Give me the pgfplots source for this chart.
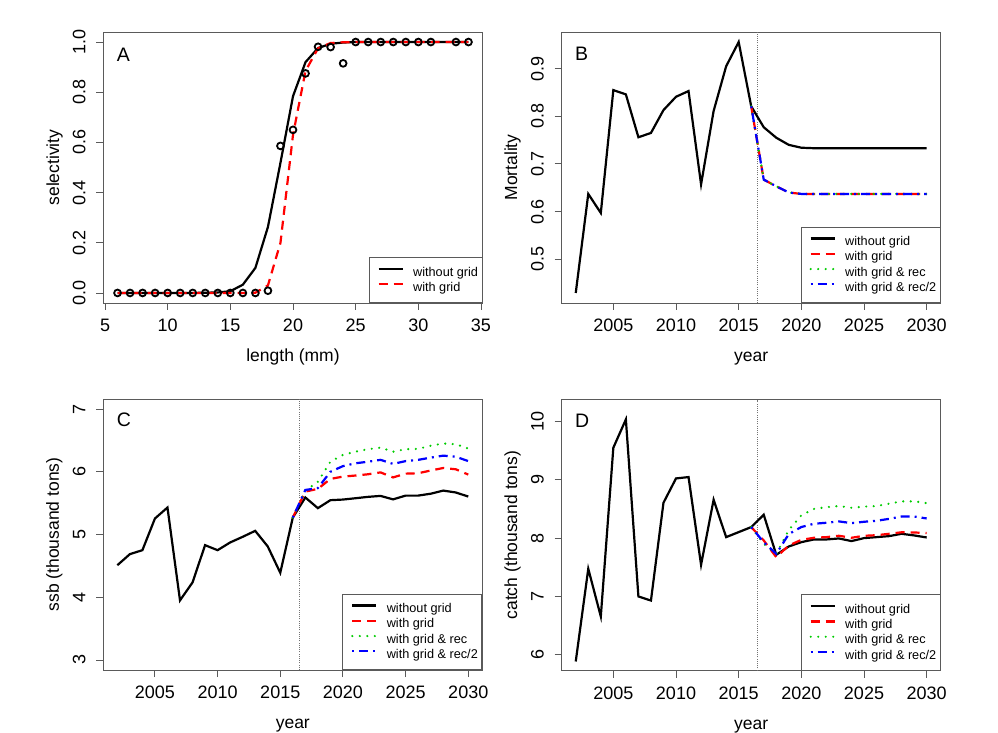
\documentclass[border=0pt]{standalone}
\usepackage{fontspec}
\setmainfont{Liberation Sans}
\usepackage{pgfplots}
\pgfplotsset{compat=1.18}
\definecolor{rgreen}{RGB}{0,205,0}
\definecolor{framegray}{RGB}{90,90,90}
\newcommand{\mainfont}{\fontsize{17.5bp}{20bp}\selectfont}
\newcommand{\tickfont}{\fontsize{18bp}{20bp}\selectfont}
\newcommand{\legfont}{\fontsize{12.7bp}{15bp}\selectfont}
\newcommand{\letfont}{\fontsize{19.5bp}{22bp}\selectfont}
\pgfplotsset{
  rbase/.style={
    scale only axis, width=379bp, height=271bp,
    axis line style={framegray, line width=0.9bp},
    every tick/.style={framegray, line width=0.9bp},
    tick align=outside, tick pos=left, major tick length=7bp,
    font=\mainfont,
    tick label style={font=\tickfont},
    /pgf/number format/assume math mode=true,
    /pgf/number format/set thousands separator={},
    xticklabel style={anchor=north, inner sep=0pt},
    xticklabel shift=9bp,
    yticklabel style={rotate=90, anchor=base, inner sep=0pt},
    yticklabel shift=11bp,
    xlabel style={at={(axis description cs:0.5,-0.2177)}, anchor=base, inner sep=0pt},
    ylabel style={at={(axis description cs:-0.1174,0.5)}, anchor=base, inner sep=0pt},
    legend style={at={(1,0)}, anchor=south east, draw=framegray, line width=0.9bp,
      fill=white, font=\legfont, inner xsep=4bp, inner ysep=8.2bp, row sep=2.3bp,
      nodes={inner xsep=0pt, inner ysep=0pt, text height=10bp, text depth=3bp}},
    legend cell align=left,
    legend image code/.code={\path[draw=none,fill=none] (0bp,0bp) rectangle (40bp,3.5bp); \draw[##1] (5.5bp,3.5bp) -- (29.5bp,3.5bp);},
  },
  lblack/.style={black, line width=2.2bp},
  lred/.style={red, line width=2.2bp, dash pattern=on 9bp off 6bp},
  lgreen/.style={rgreen, line width=2.4bp, line cap=round, dash pattern=on 0bp off 7.5bp},
  lblue/.style={blue, line width=2.2bp, dash pattern=on 2bp off 5bp on 9bp off 5bp},
  vline/.style={black!55, line width=0.8bp, dash pattern=on 1bp off 1.2bp, forget plot},
}
\begin{document}
\begin{tikzpicture}
\path[use as bounding box] (0bp,0bp) rectangle (998bp,733bp);

% ---------------- Panel A
\begin{axis}[rbase, at={(103.5bp,430bp)}, anchor=south west,
  xmin=4.88, xmax=35.12, ymin=-0.04, ymax=1.04,
  xtick={5,10,15,20,25,30,35}, ytick={0,0.2,0.4,0.6,0.8,1.0},
  yticklabel style={/pgf/number format/.cd, fixed, fixed zerofill, precision=1},
  xlabel={length (mm)}, ylabel={selectivity}]
\addplot[only marks, mark=o, mark size=3.4bp, black, line width=1.8bp, forget plot] coordinates {
(6,0)(7,0)(8,0)(9,0)(10,0)(11,0)(12,0)(13,0)(14,0)(15,0)(16,0)(17,0)(18,0.009)(19,0.586)(20,0.65)(21,0.875)(22,0.981)(23,0.98)(24,0.915)(25,1)(26,1)(27,1)(28,1)(29,1)(30,1)(31,1)(33,1)(34,1)};
\addplot[lblack] coordinates {
(6,0)(7,0)(8,0)(9,0)(10,0)(11,0)(12,0)(13,0.001)(14,0.002)(15,0.007)(16,0.033)(17,0.10)(18,0.263)(19,0.519)(20,0.784)(21,0.92)(22,0.976)(23,0.993)(24,0.998)(25,1)(26,1)(27,1)(28,1)(29,1)(30,1)(31,1)(32,1)(33,1)(34,1)};
\addlegendentry{without grid}
\addplot[lred] coordinates {
(6,0)(7,0)(8,0)(9,0)(10,0)(11,0)(12,0)(13,0)(14,0)(15,0)(16,0)(17,0.001)(18,0.03)(19,0.2)(20,0.63)(21,0.885)(22,0.975)(23,0.996)(24,0.999)(25,1)(26,1)(27,1)(28,1)(29,1)(30,1)(31,1)(32,1)(33,1)(34,1)};
\addlegendentry{with grid}
\node[anchor=base west, font=\letfont, inner sep=0pt] at (rel axis cs:0.035,0.892) {A};
\end{axis}

% ---------------- Panel B
\begin{axis}[rbase, at={(561.7bp,430bp)}, anchor=south west,
  xmin=2000.88, xmax=2031.12, ymin=0.408, ymax=0.977,
  xtick={2005,2010,2015,2020,2025,2030}, ytick={0.5,0.6,0.7,0.8,0.9},
  yticklabel style={/pgf/number format/.cd, fixed, fixed zerofill, precision=1},
  xlabel={year}, ylabel={Mortality}]
\addplot[vline] coordinates {(2016.5,0.408)(2016.5,0.977)};
\addplot[lblack] coordinates {
(2002,0.429)(2003,0.637)(2004,0.597)(2005,0.855)(2006,0.846)(2007,0.756)(2008,0.765)(2009,0.813)(2010,0.841)(2011,0.853)(2012,0.657)(2013,0.811)(2014,0.905)(2015,0.956)(2016,0.821)(2017,0.777)(2018,0.755)(2019,0.740)(2020,0.734)(2021,0.733)(2022,0.733)(2023,0.733)(2024,0.733)(2025,0.733)(2026,0.733)(2027,0.733)(2028,0.733)(2029,0.733)(2030,0.733)};
\addlegendentry{without grid}
\addplot[lred] coordinates {
(2016,0.821)(2017,0.667)(2018,0.653)(2019,0.640)(2020,0.637)(2021,0.637)(2022,0.637)(2023,0.637)(2024,0.637)(2025,0.637)(2026,0.637)(2027,0.637)(2028,0.637)(2029,0.637)(2030,0.637)};
\addlegendentry{with grid}
\addplot[lgreen] coordinates {
(2016,0.821)(2017,0.667)(2018,0.653)(2019,0.640)(2020,0.637)(2021,0.637)(2022,0.637)(2023,0.637)(2024,0.637)(2025,0.637)(2026,0.637)(2027,0.637)(2028,0.637)(2029,0.637)(2030,0.637)};
\addlegendentry{with grid \& rec}
\addplot[lblue] coordinates {
(2016,0.821)(2017,0.667)(2018,0.653)(2019,0.640)(2020,0.637)(2021,0.637)(2022,0.637)(2023,0.637)(2024,0.637)(2025,0.637)(2026,0.637)(2027,0.637)(2028,0.637)(2029,0.637)(2030,0.637)};
\addlegendentry{with grid \& rec/2}
\node[anchor=base west, font=\letfont, inner sep=0pt] at (rel axis cs:0.035,0.895) {B};
\end{axis}

% ---------------- Panel C
\begin{axis}[rbase, at={(103.3bp,63bp)}, anchor=south west,
  xmin=2000.88, xmax=2031.12, ymin=2.84, ymax=7.16,
  xtick={2005,2010,2015,2020,2025,2030}, ytick={3,4,5,6,7},
  xlabel={year}, ylabel={ssb (thousand tons)}]
\addplot[vline] coordinates {(2016.5,2.84)(2016.5,7.16)};
\addplot[lblack] coordinates {
(2002,4.51)(2003,4.687)(2004,4.75)(2005,5.255)(2006,5.43)(2007,3.95)(2008,4.236)(2009,4.83)(2010,4.75)(2011,4.873)(2012,4.963)(2013,5.058)(2014,4.81)(2015,4.39)(2016,5.27)(2017,5.59)(2018,5.42)(2019,5.547)(2020,5.557)(2021,5.578)(2022,5.6)(2023,5.615)(2024,5.56)(2025,5.62)(2026,5.62)(2027,5.65)(2028,5.70)(2029,5.67)(2030,5.605)};
\addlegendentry{without grid}
\addplot[lred] coordinates {
(2016,5.27)(2017,5.684)(2018,5.727)(2019,5.886)(2020,5.923)(2021,5.94)(2022,5.96)(2023,5.99)(2024,5.91)(2025,5.97)(2026,5.976)(2027,6.02)(2028,6.06)(2029,6.04)(2030,5.955)};
\addlegendentry{with grid}
\addplot[lgreen] coordinates {
(2016,5.27)(2017,5.70)(2018,5.84)(2019,6.16)(2020,6.27)(2021,6.32)(2022,6.36)(2023,6.385)(2024,6.32)(2025,6.36)(2026,6.365)(2027,6.415)(2028,6.45)(2029,6.44)(2030,6.37)};
\addlegendentry{with grid \& rec}
\addplot[lblue] coordinates {
(2016,5.27)(2017,5.71)(2018,5.74)(2019,6.0)(2020,6.09)(2021,6.135)(2022,6.16)(2023,6.19)(2024,6.125)(2025,6.17)(2026,6.19)(2027,6.225)(2028,6.257)(2029,6.24)(2030,6.17)};
\addlegendentry{with grid \& rec/2}
\node[anchor=base west, font=\letfont, inner sep=0pt] at (rel axis cs:0.035,0.897) {C};
\end{axis}

% ---------------- Panel D
\begin{axis}[rbase, at={(561.7bp,62.3bp)}, anchor=south west,
  xmin=2000.88, xmax=2031.12, ymin=5.728, ymax=10.372,
  xtick={2005,2010,2015,2020,2025,2030}, ytick={6,7,8,9,10},
  xlabel={year}, ylabel={catch (thousand tons)}]
\addplot[vline] coordinates {(2016.5,5.728)(2016.5,10.372)};
\addplot[lblack] coordinates {
(2002,5.886)(2003,7.474)(2004,6.657)(2005,9.549)(2006,10.034)(2007,7.0)(2008,6.93)(2009,8.606)(2010,9.023)(2011,9.046)(2012,7.543)(2013,8.657)(2014,8.017)(2015,8.103)(2016,8.189)(2017,8.4)(2018,7.714)(2019,7.857)(2020,7.931)(2021,7.977)(2022,7.977)(2023,7.994)(2024,7.949)(2025,8.0)(2026,8.017)(2027,8.034)(2028,8.074)(2029,8.046)(2030,8.011)};
\addlegendentry{without grid}
\addplot[lred] coordinates {
(2016,8.189)(2017,7.96)(2018,7.674)(2019,7.874)(2020,7.97)(2021,8.006)(2022,8.017)(2023,8.04)(2024,8.006)(2025,8.04)(2026,8.05)(2027,8.074)(2028,8.1)(2029,8.097)(2030,8.086)};
\addlegendentry{with grid}
\addplot[lgreen] coordinates {
(2016,8.189)(2017,7.9)(2018,7.73)(2019,8.14)(2020,8.39)(2021,8.5)(2022,8.53)(2023,8.55)(2024,8.52)(2025,8.54)(2026,8.55)(2027,8.59)(2028,8.63)(2029,8.63)(2030,8.6)};
\addlegendentry{with grid \& rec}
\addplot[lblue] coordinates {
(2016,8.189)(2017,7.93)(2018,7.73)(2019,8.07)(2020,8.19)(2021,8.246)(2022,8.263)(2023,8.286)(2024,8.257)(2025,8.28)(2026,8.297)(2027,8.33)(2028,8.37)(2029,8.37)(2030,8.337)};
\addlegendentry{with grid \& rec/2}
\node[anchor=base west, font=\letfont, inner sep=0pt] at (rel axis cs:0.035,0.896) {D};
\end{axis}
\end{tikzpicture}
\end{document}
